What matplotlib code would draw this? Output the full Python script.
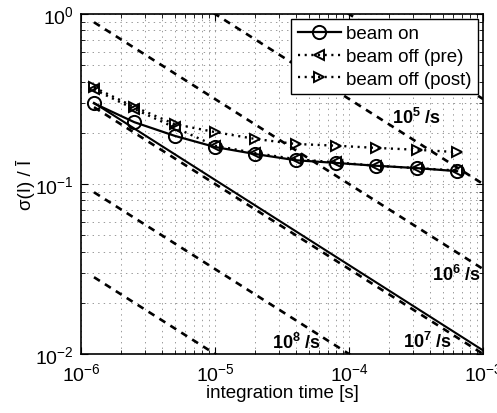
import numpy as np
import matplotlib
matplotlib.use("Agg")
import matplotlib.pyplot as plt

plt.rcParams['font.family'] = ['Liberation Sans', 'DejaVu Sans']
plt.rcParams['mathtext.fontset'] = 'custom'
plt.rcParams['mathtext.rm'] = 'Liberation Sans'
plt.rcParams['mathtext.bf'] = 'Liberation Sans:bold'
plt.rcParams['lines.scale_dashes'] = False

# integration times of the measured points [s]
t = [1.25e-6, 2.5e-6, 5e-6, 1e-5, 2e-5, 4e-5, 8e-5, 1.6e-4, 3.2e-4, 6.4e-4]
beam_on = [0.298, 0.231, 0.192, 0.165, 0.150, 0.138, 0.133, 0.128, 0.124, 0.119]
beam_off_pre = [0.36, 0.276, 0.215, 0.168, 0.152, 0.140, 0.134, 0.128, 0.124, 0.120]
beam_off_post = [0.37, 0.284, 0.225, 0.202, 0.184, 0.172, 0.168, 0.163, 0.159, 0.154]

# reference lines (count rate), endpoints at t_ref
t_ref = [1.25e-6, 1e-3]
rate_lines = {
    "1e4": [8.94, 0.316],
    "1e5": [2.83, 0.1],
    "1e6": [0.894, 0.0316],
    "1e7": [0.283, 0.01],
    "1e8": [0.0894, 0.00316],
    "1e9": [0.0283, 0.001],
}
fit_line = [0.30, 0.0105]

# rate labels: text, t, y
rate_labels = [
    (r"$\mathbf{10^5}$ /s", 3.16e-4, 0.248),
    (r"$\mathbf{10^6}$ /s", 6.35e-4, 0.0296),
    (r"$\mathbf{10^7}$ /s", 3.88e-4, 0.012),
    (r"$\mathbf{10^8}$ /s", 4.02e-5, 0.0118),
]

fig = plt.figure(figsize=(4.97, 4.14), dpi=100)
ax = fig.add_axes([0.163, 0.1425, 0.809, 0.8213])

for key, yy in rate_lines.items():
    ax.plot(t_ref, yy, color='black', lw=1.9, dashes=(5, 4.3))
ax.plot(t_ref, fit_line, color='black', lw=1.5)

ax.plot(t, beam_on, '-', color='black', lw=1.6, marker='o', ms=9.5,
        mfc='none', mew=1.4, label='beam on')
ax.plot(t, beam_off_pre, color='black', lw=1.7, dashes=(1.5, 3.3), marker='<',
        ms=7, mfc='none', mew=1.4, label='beam off (pre)')
ax.plot(t, beam_off_post, color='black', lw=1.7, dashes=(1.5, 3.3), marker='>',
        ms=7, mfc='none', mew=1.4, label='beam off (post)')

for txt, tx, ty in rate_labels:
    ax.text(tx, ty, txt, ha='center', va='center', fontsize=13, fontweight='bold')

ax.set_xscale('log')
ax.set_yscale('log')
ax.set_xlim(1e-6, 1e-3)
ax.set_ylim(1e-2, 1e0)
ax.grid(True, which='both', color='#999999', ls=(0, (1, 3)), lw=0.7)
ax.tick_params(which='both', direction='in', top=True, right=True, labelsize=14)
ax.tick_params(axis='x', pad=6)
ax.tick_params(axis='y', pad=5)
ax.tick_params(which='major', length=5)
ax.tick_params(which='minor', length=3)
for s in ax.spines.values():
    s.set_linewidth(1.2)

ax.set_xlabel('integration time [s]', fontsize=13.5, labelpad=0)
ax.set_ylabel('σ(I) / Ī', fontsize=13.5, labelpad=0)

leg = ax.legend(loc='upper right', fontsize=13.5, frameon=True, fancybox=False,
                edgecolor='black', framealpha=1, handlelength=2.3,
                borderaxespad=0.25, borderpad=0.35, labelspacing=0.3,
                handletextpad=0.3)
leg.get_frame().set_linewidth(1.0)

fig.savefig('out.png', dpi=100)
